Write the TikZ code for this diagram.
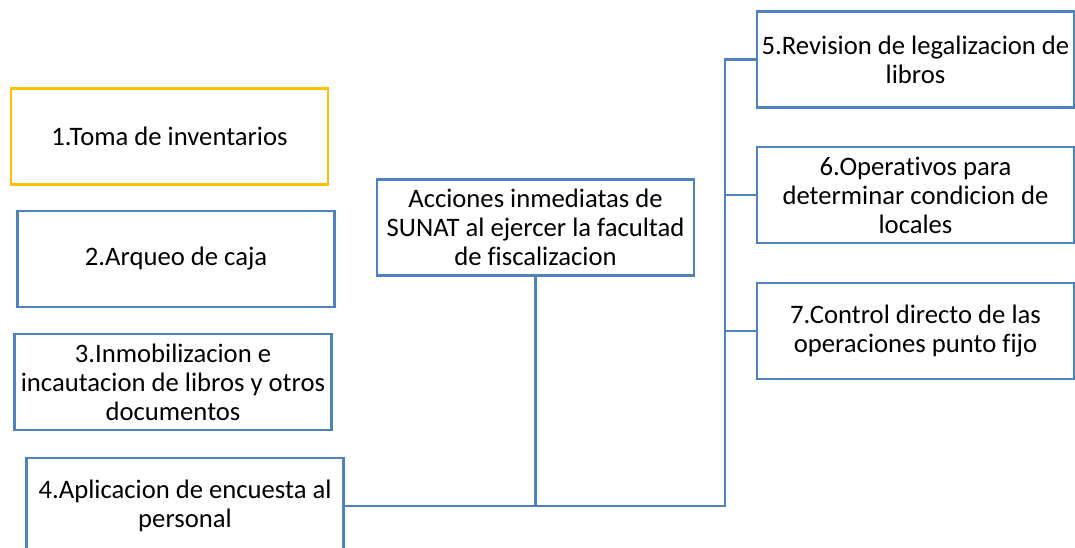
\documentclass[tikz,border=0pt]{standalone}
\usepackage{fontspec}
\setmainfont[Ligatures=NoCommon]{Carlito}
\definecolor{azul}{HTML}{4F81BD}
\definecolor{amarillo}{HTML}{FFC000}
\begin{document}
\begin{tikzpicture}[x=.75pt,y=-.75pt,
        caja/.style={draw=azul,line width=1.6pt,fill=white,minimum width=237.75pt,minimum height=72pt,
            align=center,inner sep=0pt,font=\fontsize{20}{21.75}\selectfont},
        linea/.style={draw=azul,line width=1.6pt}]
            \useasboundingbox (0,0) rectangle (1075,548);
            \node[caja,draw=amarillo] (b1) at (169.5,136.5) {1.Toma de inventarios};
            \node[caja] (b2) at (176,259) {2.Arqueo de caja};
            \node[caja] (b3) at (173,382) {3.Inmobilizacion e\\ incautacion de libros y otros\\ documentos};
            \node[caja] (b4) at (185,506) {4.Aplicacion de encuesta al\\ personal};
            \node[caja] (c) at (535.5,227.5) {Acciones inmediatas de\\ SUNAT al ejercer la facultad\\ de fiscalizacion};
            \node[caja] (b5) at (915.5,59.5) {5.Revision de legalizacion de\\ libros};
            \node[caja] (b6) at (915.5,195) {6.Operativos para\\ determinar condicion de\\ locales};
            \node[caja] (b7) at (915.5,331) {7.Control directo de las\\ operaciones punto fijo};
            \coordinate (tronco) at (725,506);
            \draw[linea] (b4.east) -- (tronco) |- (b5.west);
            \draw[linea] (c.south) -- (c.south |- b4.east);
            \foreach \b in {b6,b7}
                \draw[linea] (tronco |- \b.west) -- (\b.west);
\end{tikzpicture}
\end{document}
